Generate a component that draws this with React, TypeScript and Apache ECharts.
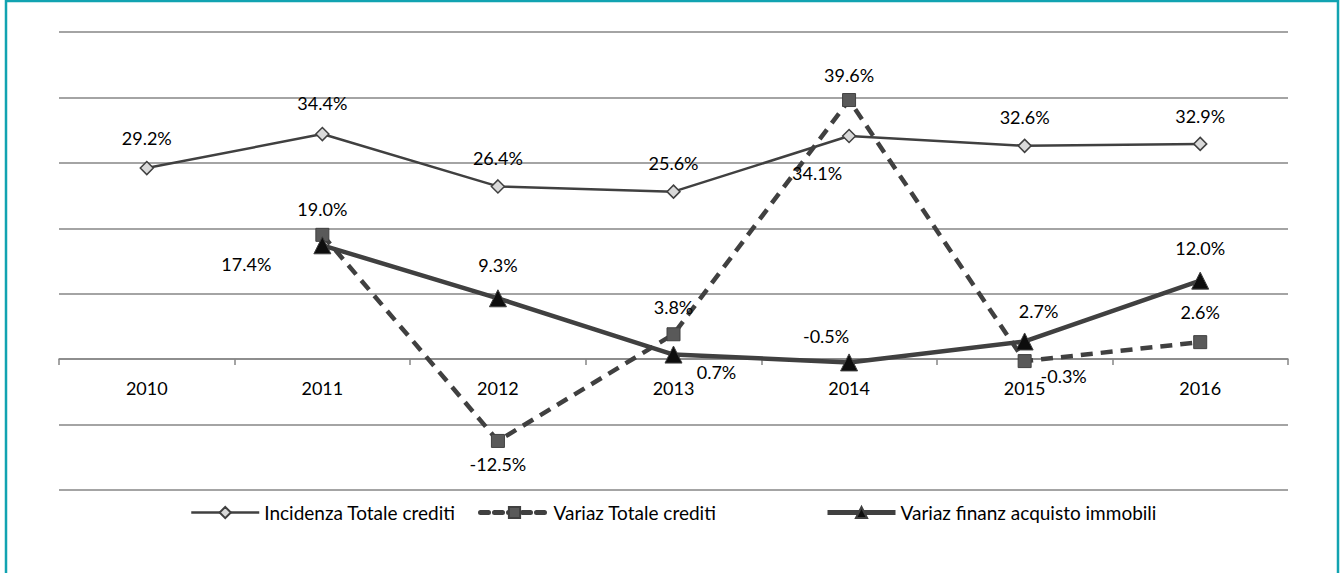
import React, { useEffect, useRef } from "react";
import * as echarts from "echarts";

const years = ["2010", "2011", "2012", "2013", "2014", "2015", "2016"];
const incidenzaTotaleCrediti = [29.2, 34.4, 26.4, 25.6, 34.1, 32.6, 32.9];
const variazTotaleCrediti = [null, 19.0, -12.5, 3.8, 39.6, -0.3, 2.6];
const variazFinanzAcquisto = [null, 17.4, 9.3, 0.7, -0.5, 2.7, 12.0];

const seriesNames = [
  "Incidenza Totale crediti",
  "Variaz Totale crediti",
  "Variaz finanz acquisto immobili",
];

// label offsets (dx, dy) relative to each point
const incOffsets = [[0, -30], [0, -31], [0, -28], [0, -29], [-32, 37], [0, -29], [0, -28]];
const varTotOffsets = [[0, 0], [0, -26], [0, 23], [0, -27], [0, -25], [39, 15], [0, -30]];
const varFinOffsets = [[0, 0], [-76, 19], [0, -33], [43, 17], [-23, -26], [14, -30], [0, -33]];

// legend item left positions
const legendLefts = [185, 473, 820];

const FONT = "Lato";

function withLabels(values: (number | null)[], offsets: number[][]) {
  return values.map((v, i) =>
    v === null
      ? null
      : {
          value: v,
          label: { offset: offsets[i] },
        }
  );
}

export default function App() {
  const ref = useRef<HTMLDivElement>(null);
  useEffect(() => {
    if (!ref.current) return;
    const chart = echarts.init(ref.current, undefined, { renderer: "svg" });
    const labelBase = {
      show: true,
      position: "inside",
      color: "#000",
      fontFamily: FONT,
      fontSize: 18,
      formatter: (p: any) => Number(p.value).toFixed(1) + "%",
    };
    const legendLineStyles = [
      { width: 2.5, color: "#404040" },
      { width: 5, color: "#404040", type: [8, 6], cap: "round" },
      { width: 5, color: "#404040" },
    ];
    chart.setOption({
      animation: false,
      backgroundColor: "#fff",
      textStyle: { fontFamily: FONT },
      graphic: [
        {
          type: "rect",
          shape: { x: 6, y: 1, width: 1332, height: 600 },
          style: { fill: "none", stroke: "#11a3b1", lineWidth: 2.5 },
          silent: true,
          z: 100,
        },
      ],
      grid: { left: 59, right: 52, top: 32, bottom: 83, containLabel: false },
      xAxis: {
        type: "category",
        data: years,
        boundaryGap: true,
        position: "bottom",
        offset: -130.9,
        axisLine: { onZero: false, lineStyle: { color: "#868686", width: 1.5 } },
        axisTick: { show: true, interval: 0, length: 6, lineStyle: { color: "#868686", width: 1.5 } },
        axisLabel: { color: "#000", fontSize: 18, fontFamily: FONT, margin: 20 },
      },
      yAxis: {
        type: "value",
        min: -20,
        max: 50,
        interval: 10,
        axisLine: { show: false },
        axisTick: { show: false },
        axisLabel: { show: false },
        splitLine: { lineStyle: { color: "#868686", width: 1.5 } },
      },
      legend: seriesNames.map((name, i) => ({
        bottom: 46,
        left: legendLefts[i],
        itemWidth: 68,
        itemHeight: 14,
        itemGap: 0,
        lineStyle: legendLineStyles[i],
        textStyle: { fontSize: 19, fontFamily: FONT, color: "#000" },
        data: [name],
      })),
      series: [
        {
          name: seriesNames[0],
          type: "line",
          data: withLabels(incidenzaTotaleCrediti, incOffsets),
          symbol: "diamond",
          symbolSize: 13,
          lineStyle: { color: "#404040", width: 2.5 },
          itemStyle: { color: "#d9d9d9", borderColor: "#404040", borderWidth: 1.5 },
          label: labelBase,
        },
        {
          name: seriesNames[1],
          type: "line",
          data: withLabels(variazTotaleCrediti, varTotOffsets),
          symbol: "rect",
          symbolSize: 13,
          lineStyle: { color: "#404040", width: 4.5, type: [12, 8] },
          itemStyle: { color: "#595959", borderColor: "#404040", borderWidth: 1 },
          label: labelBase,
        },
        {
          name: seriesNames[2],
          type: "line",
          data: withLabels(variazFinanzAcquisto, varFinOffsets),
          symbol: "triangle",
          symbolSize: 17,
          lineStyle: { color: "#404040", width: 4.5 },
          itemStyle: { color: "#0d0d0d", borderColor: "#404040", borderWidth: 1 },
          label: labelBase,
        },
      ],
    });
    return () => chart.dispose();
  }, []);
  return (
    <div
      ref={ref}
      style={{ position: "fixed", left: 0, top: 0, width: 1340, height: 573 }}
    />
  );
}
